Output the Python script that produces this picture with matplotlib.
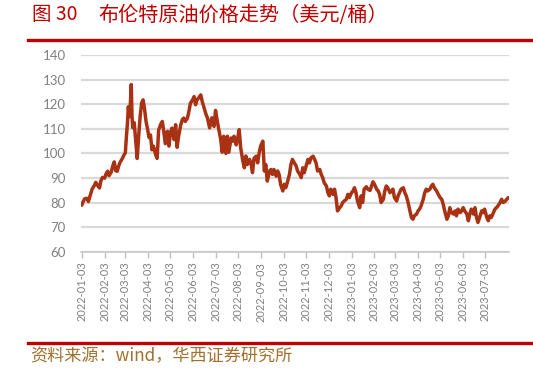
import matplotlib
matplotlib.use("Agg")
import matplotlib.pyplot as plt
import numpy as np
import pandas as pd

# ---- data ----
dates = [
    "2022-01-03", "2022-01-05", "2022-01-07", "2022-01-10", "2022-01-12", "2022-01-15", "2022-01-17",
    "2022-01-20", "2022-01-22", "2022-01-25", "2022-01-27", "2022-01-29", "2022-01-31", "2022-02-03",
    "2022-02-05", "2022-02-07", "2022-02-09", "2022-02-12", "2022-02-14", "2022-02-16", "2022-02-18",
    "2022-02-20", "2022-02-22", "2022-02-24", "2022-02-27", "2022-03-01", "2022-03-03", "2022-03-04",
    "2022-03-06", "2022-03-07", "2022-03-09", "2022-03-11", "2022-03-12", "2022-03-13", "2022-03-15",
    "2022-03-17", "2022-03-19", "2022-03-21", "2022-03-23", "2022-03-25", "2022-03-27", "2022-03-29",
    "2022-03-31", "2022-04-02", "2022-04-04", "2022-04-06", "2022-04-08", "2022-04-10", "2022-04-13",
    "2022-04-15", "2022-04-17", "2022-04-20", "2022-04-22", "2022-04-24", "2022-04-26", "2022-04-29",
    "2022-05-01", "2022-05-03", "2022-05-05", "2022-05-08", "2022-05-10", "2022-05-12", "2022-05-14",
    "2022-05-17", "2022-05-19", "2022-05-21", "2022-05-23", "2022-05-26", "2022-05-28", "2022-05-30",
    "2022-06-02", "2022-06-04", "2022-06-06", "2022-06-08", "2022-06-10", "2022-06-13", "2022-06-15",
    "2022-06-17", "2022-06-20", "2022-06-22", "2022-06-25", "2022-06-28", "2022-07-01", "2022-07-03",
    "2022-07-05", "2022-07-07", "2022-07-10", "2022-07-12", "2022-07-14", "2022-07-17", "2022-07-19",
    "2022-07-21", "2022-07-24", "2022-07-26", "2022-07-28", "2022-07-31", "2022-08-02", "2022-08-04",
    "2022-08-06", "2022-08-09", "2022-08-11", "2022-08-13", "2022-08-15", "2022-08-18", "2022-08-20",
    "2022-08-22", "2022-08-24", "2022-08-27", "2022-08-29", "2022-08-31", "2022-09-02", "2022-09-05",
    "2022-09-07", "2022-09-09", "2022-09-11", "2022-09-14", "2022-09-16", "2022-09-18", "2022-09-20",
    "2022-09-23", "2022-09-25", "2022-09-27", "2022-09-29", "2022-10-02", "2022-10-04", "2022-10-06",
    "2022-10-08", "2022-10-11", "2022-10-13", "2022-10-15", "2022-10-17", "2022-10-20", "2022-10-22",
    "2022-10-25", "2022-10-27", "2022-10-29", "2022-10-31", "2022-11-03", "2022-11-05", "2022-11-07",
    "2022-11-09", "2022-11-12", "2022-11-14", "2022-11-16", "2022-11-18", "2022-11-21", "2022-11-23",
    "2022-11-25", "2022-11-27", "2022-11-30", "2022-12-02", "2022-12-04", "2022-12-06", "2022-12-09",
    "2022-12-11", "2022-12-13", "2022-12-15", "2022-12-18", "2022-12-20", "2022-12-22", "2022-12-24",
    "2022-12-27", "2022-12-29", "2022-12-31", "2023-01-03", "2023-01-05", "2023-01-07", "2023-01-09",
    "2023-01-11", "2023-01-14", "2023-01-16", "2023-01-18", "2023-01-20", "2023-01-23", "2023-01-25",
    "2023-01-28", "2023-01-30", "2023-02-01", "2023-02-03", "2023-02-06", "2023-02-08", "2023-02-10",
    "2023-02-12", "2023-02-15", "2023-02-17", "2023-02-19", "2023-02-21", "2023-02-24", "2023-02-26",
    "2023-02-28", "2023-03-02", "2023-03-05", "2023-03-07", "2023-03-09", "2023-03-11", "2023-03-14",
    "2023-03-16", "2023-03-18", "2023-03-20", "2023-03-23", "2023-03-25", "2023-03-27", "2023-03-29",
    "2023-04-01", "2023-04-03", "2023-04-05", "2023-04-07", "2023-04-10", "2023-04-12", "2023-04-14",
    "2023-04-16", "2023-04-19", "2023-04-21", "2023-04-23", "2023-04-25", "2023-04-28", "2023-04-30",
    "2023-05-03", "2023-05-05", "2023-05-07", "2023-05-09", "2023-05-12", "2023-05-14", "2023-05-16",
    "2023-05-18", "2023-05-21", "2023-05-23", "2023-05-25", "2023-05-27", "2023-05-30", "2023-06-01",
    "2023-06-03", "2023-06-05", "2023-06-08", "2023-06-10", "2023-06-12", "2023-06-14", "2023-06-17",
    "2023-06-19", "2023-06-21", "2023-06-23", "2023-06-26", "2023-06-28", "2023-06-30", "2023-07-02",
    "2023-07-05", "2023-07-07", "2023-07-09", "2023-07-11", "2023-07-14", "2023-07-16", "2023-07-18",
    "2023-07-20", "2023-07-23", "2023-07-25", "2023-07-27", "2023-07-30", "2023-08-01", "2023-08-03",
]
brent = [
    79.0, 80.5, 81.6, 81.8, 80.5, 83.5, 85.5,
    87.0, 88.3, 86.8, 86.0, 89.0, 90.3, 90.0,
    91.8, 92.8, 91.0, 92.5, 95.0, 96.6, 93.0,
    92.8, 95.0, 96.5, 98.0, 99.3, 100.3, 105.0,
    113.0, 119.0, 115.0, 128.0, 115.0, 110.5, 112.5,
    105.0, 98.0, 107.0, 115.0, 120.5, 121.8, 118.0,
    113.0, 110.0, 106.5, 107.5, 101.5, 103.0, 99.5,
    98.0, 109.5, 112.0, 113.0, 109.0, 104.0, 109.0,
    103.0, 108.5, 110.3, 105.6, 111.7, 102.5, 107.0,
    111.7, 113.7, 114.4, 113.0, 114.4, 117.1, 120.4,
    121.8, 123.1, 119.8, 121.8, 122.5, 123.8, 121.1,
    119.1, 116.0, 114.5, 110.4, 114.5, 111.0, 117.5,
    113.8, 110.4, 105.7, 100.5, 107.0, 100.0, 107.0,
    100.5, 106.3, 105.0, 107.0, 103.5, 106.3, 109.7,
    102.3, 96.9, 94.2, 99.0, 95.5, 97.6, 96.0,
    92.2, 98.0, 98.9, 96.2, 100.3, 103.0, 105.0,
    92.9, 95.5, 88.8, 92.9, 93.5, 91.5, 93.5,
    90.8, 92.9, 91.5, 87.5, 84.8, 87.5, 86.1,
    88.1, 91.5, 95.5, 97.6, 96.5, 95.0, 92.9,
    91.5, 90.2, 94.2, 92.2, 95.5, 97.6, 96.2,
    98.2, 98.9, 97.6, 96.2, 92.9, 93.5, 91.5,
    90.2, 88.1, 86.8, 84.1, 82.8, 85.5, 83.4,
    85.5, 82.1, 76.7, 78.0, 78.7, 80.1, 80.7,
    81.4, 83.4, 82.1, 84.1, 84.8, 86.1, 84.1,
    80.7, 78.0, 82.8, 80.1, 85.5, 86.5, 85.5,
    85.0, 86.8, 88.5, 87.5, 85.5, 84.8, 83.4,
    80.1, 81.4, 84.8, 86.8, 86.1, 84.1, 84.8,
    85.5, 82.1, 80.7, 82.8, 84.1, 85.5, 86.1,
    84.1, 82.8, 80.7, 76.7, 74.0, 73.3, 74.7,
    75.4, 76.7, 77.4, 78.7, 81.4, 84.1, 85.5,
    84.8, 85.5, 86.8, 87.5, 86.1, 84.8, 83.6,
    82.0, 81.4, 79.4, 76.7, 73.3, 74.7, 78.0,
    76.0, 75.4, 76.7, 74.7, 77.4, 76.0, 76.7,
    78.0, 76.7, 75.4, 72.7, 75.4, 77.4, 75.4,
    78.0, 74.0, 72.0, 74.7, 76.7, 76.0, 77.4,
    74.0, 72.7, 74.7, 74.0, 76.0, 77.4, 78.0,
    78.7, 80.1, 81.4, 80.1, 80.7, 81.4, 82.1,
]
tick_dates = [
    "2022-01-03", "2022-02-03", "2022-03-03", "2022-04-03", "2022-05-03", "2022-06-03", "2022-07-03",
    "2022-08-03", "2022-09-03", "2022-10-03", "2022-11-03", "2022-12-03", "2023-01-03", "2023-02-03",
    "2023-03-03", "2023-04-03", "2023-05-03", "2023-06-03", "2023-07-03",
]
y_ticks = [60, 70, 80, 90, 100, 110, 120, 130, 140]

title_fig = "图 30"
title_text = "布伦特原油价格走势（美元/桶）"
source_text = "资料来源：wind，华西证券研究所"

# ---- style ----
cjk = ["Noto Sans CJK SC", "DejaVu Sans"]
num_font = "Lato"
red = "#C00000"
line_color = "#A93214"
grid_color = "#D9D9D9"
label_color = "#808080"

fig = plt.figure(figsize=(5.33, 3.70), dpi=100)
ax = fig.add_axes([81 / 533, 1 - 252 / 370, (509 - 81) / 533, (252 - 55) / 370])

x = pd.to_datetime(dates)
ax.plot(x, brent, color=line_color, lw=2.5, solid_joinstyle="round", solid_capstyle="round", zorder=3)

ax.set_ylim(60, 140)
ax.set_yticks(y_ticks)
ax.set_xlim(pd.Timestamp("2022-01-02"), pd.Timestamp("2023-08-04"))
ticks = pd.to_datetime(tick_dates)
ax.set_xticks(ticks)
ax.set_xticklabels(tick_dates, rotation=90, fontsize=8, color=label_color, family=num_font)
for lab in ax.get_yticklabels():
    lab.set_fontfamily(num_font)
ax.tick_params(axis="y", length=0, pad=11, labelsize=9.5, labelcolor=label_color)
ax.tick_params(axis="x", length=4, width=1, color="#BFBFBF", pad=3)

ax.grid(axis="y", color=grid_color, lw=1.6, zorder=0)
ax.set_axisbelow(True)
for s in ["left", "right", "top"]:
    ax.spines[s].set_visible(False)
ax.spines["bottom"].set_color("#C8C8C8")
ax.spines["bottom"].set_linewidth(1.2)

# ---- title, rules, source ----
fig.text(32 / 533, 1 - 15 / 370, title_fig, color=red, fontsize=14, family=cjk, va="center", ha="left")
fig.text(98 / 533, 1 - 15 / 370, title_text, color=red, fontsize=14.5, family=cjk, va="center", ha="left")
fig.add_artist(plt.Line2D([28 / 533, 1.0], [1 - 40 / 370, 1 - 40 / 370], color=red, lw=2.4,
                          transform=fig.transFigure))
fig.add_artist(plt.Line2D([28 / 533, 1.0], [1 - 343 / 370, 1 - 343 / 370], color=red, lw=2.4,
                          transform=fig.transFigure))
fig.text(30 / 533, 1 - 356 / 370, source_text, color="#A0702E", fontsize=12.3, family=cjk,
         va="center", ha="left")

fig.savefig("out.png", dpi=100)
